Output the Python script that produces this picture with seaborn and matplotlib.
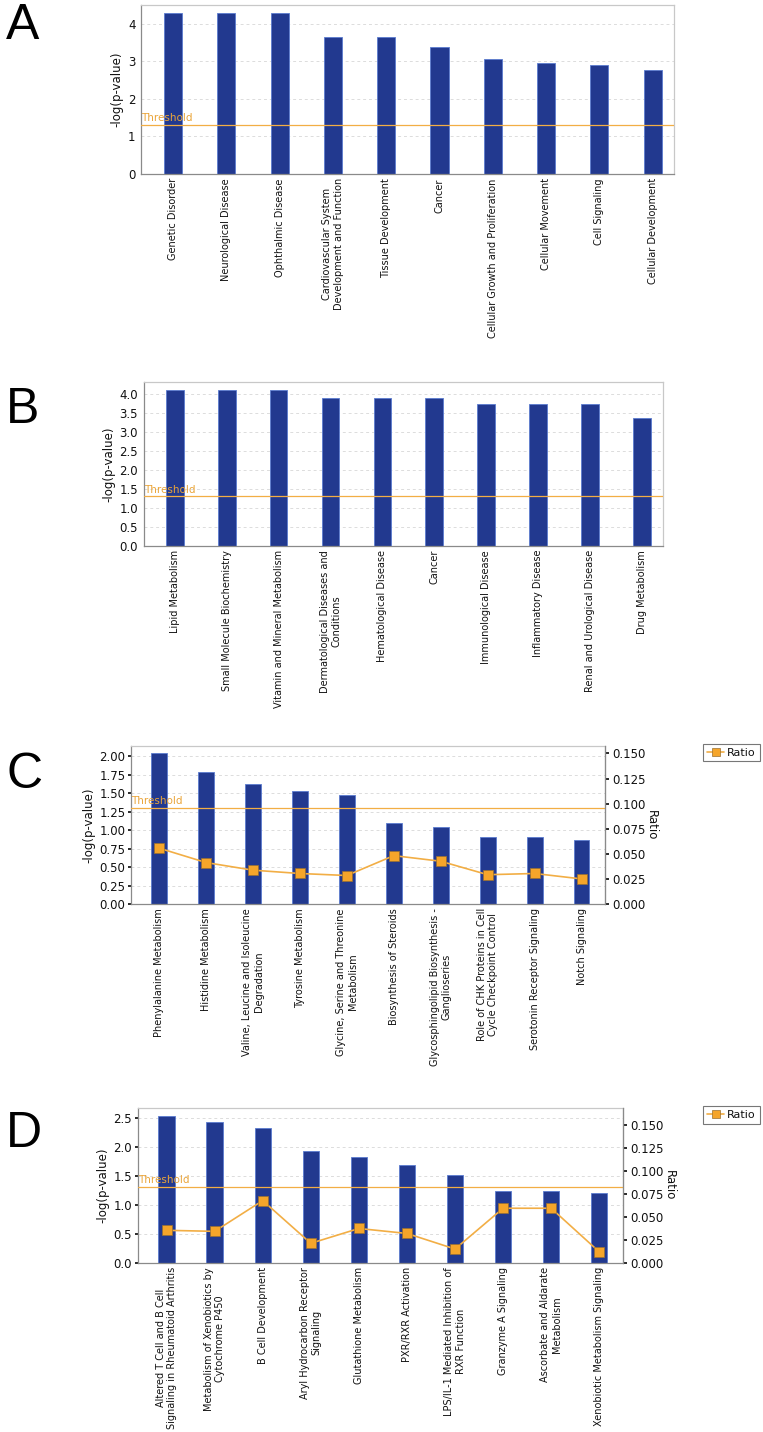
import numpy as np
import pandas as pd
import matplotlib
matplotlib.use("Agg")
import matplotlib.pyplot as plt
import seaborn as sns

# ---- data ----
# panel A
a_labels = ["Genetic Disorder", "Neurological Disease", "Ophthalmic Disease",
            "Cardiovascular System\nDevelopment and Function", "Tissue Development",
            "Cancer", "Cellular Growth and Proliferation", "Cellular Movement",
            "Cell Signaling", "Cellular Development"]
a_logp = [4.30, 4.30, 4.30, 3.66, 3.66, 3.38, 3.06, 2.96, 2.90, 2.78]

# panel B
b_labels = ["Lipid Metabolism", "Small Molecule Biochemistry",
            "Vitamin and Mineral Metabolism", "Dermatological Diseases and\nConditions",
            "Hematological Disease", "Cancer", "Immunological Disease",
            "Inflammatory Disease", "Renal and Urological Disease", "Drug Metabolism"]
b_logp = [4.10, 4.10, 4.10, 3.90, 3.90, 3.89, 3.73, 3.73, 3.73, 3.36]

# panel C
c_labels = ["Phenylalanine Metabolism", "Histidine Metabolism",
            "Valine, Leucine and Isoleucine\nDegradation", "Tyrosine Metabolism",
            "Glycine, Serine and Threonine\nMetabolism", "Biosynthesis of Steroids",
            "Glycosphingolipid Biosynthesis -\nGanglioseries",
            "Role of CHK Proteins in Cell\nCycle Checkpoint Control",
            "Serotonin Receptor Signaling", "Notch Signaling"]
c_logp = [2.04, 1.78, 1.62, 1.53, 1.48, 1.09, 1.04, 0.905, 0.905, 0.86]
c_ratio = [0.0556, 0.0413, 0.0337, 0.0304, 0.0284, 0.0482, 0.0426, 0.0292, 0.0304, 0.0250]

# panel D
d_labels = ["Altered T Cell and B Cell\nSignaling in Rheumatoid Arthritis",
            "Metabolism of Xenobiotics by\nCytochrome P450", "B Cell Development",
            "Aryl Hydrocarbon Receptor\nSignaling", "Glutathione Metabolism",
            "PXR/RXR Activation", "LPS/IL-1 Mediated Inhibition of\nRXR Function",
            "Granzyme A Signaling", "Ascorbate and Aldarate\nMetabolism",
            "Xenobiotic Metabolism Signaling"]
d_logp = [2.53, 2.43, 2.33, 1.93, 1.82, 1.68, 1.51, 1.23, 1.23, 1.21]
d_ratio = [0.0352, 0.0341, 0.0675, 0.0211, 0.0372, 0.0318, 0.0149, 0.0592, 0.0592, 0.0118]

threshold = 1.3

# ---- style ----
bar_color = "#22398f"
orange = "#f2ae45"
sns.set_theme(style="white")
plt.rcParams['font.family'] = ['DejaVu Sans']
plt.rcParams['text.color'] = '#111111'
plt.rcParams['axes.labelcolor'] = '#111111'

fig = plt.figure(figsize=(7.63, 14.32), dpi=100)


def panel(rect, labels, logp, yticks, ytop, fmt, letter, letter_y,
          ratio=None, rticks=None, rtop=None, xr=9.4):
    ax = fig.add_axes(rect)
    df = pd.DataFrame({"cat": labels, "val": logp})
    sns.barplot(data=df, x="cat", y="val", ax=ax, color=bar_color, width=0.34,
                saturation=1, edgecolor="#5b7bcf", linewidth=0.6)
    ax.set_xlim(-0.6, xr)
    ax.set_ylim(0, ytop)
    ax.set_yticks(yticks)
    ax.set_yticklabels([fmt.format(t) for t in yticks], fontsize=8.5)
    ax.yaxis.grid(True, linestyle=(0, (3, 3)), color="#dcdcdc", linewidth=0.7)
    ax.set_axisbelow(True)
    ax.tick_params(axis="y", length=2, pad=2, colors="#111111")
    ax.tick_params(axis="x", length=0, pad=3, colors="#111111")
    ax.set_xticks(range(len(labels)))
    ax.set_xticklabels(labels, rotation=90, fontsize=7, ha="center",
                       va="top", multialignment="center")
    ax.set_xlabel("")
    ax.set_ylabel("-log(p-value)", fontsize=8.5, labelpad=3)
    for s in ["top", "right"]:
        ax.spines[s].set_color("#c8c8c8")
    for s in ["left", "bottom"]:
        ax.spines[s].set_color("#8a8a8a")
    for s in ax.spines.values():
        s.set_linewidth(0.9)
    ax.axhline(threshold, color=orange, linewidth=0.9, zorder=3)
    ax.text(-0.6, threshold + ytop * 0.012, "Threshold", color="#eaa53a",
            fontsize=7.5, va="bottom", ha="left", zorder=4)
    fig.text(0.008, letter_y, letter, fontsize=36, ha="left", va="center",
             color="black", family=["Liberation Sans", "DejaVu Sans"])
    if ratio is not None:
        ax2 = ax.twinx()
        sns.lineplot(x=np.arange(len(ratio)), y=ratio, ax=ax2, color=orange,
                     marker="s", markersize=7, markerfacecolor="#f5a52a",
                     markeredgecolor="#9a7030", markeredgewidth=0.5,
                     linewidth=1.2, label="Ratio", legend=False)
        ax2.set_ylim(0, rtop)
        ax2.set_yticks(rticks)
        ax2.set_yticklabels(["{:.3f}".format(t) for t in rticks], fontsize=8.5)
        ax2.tick_params(axis="y", length=3, pad=2, colors="#111111")
        ax2.set_ylabel("Ratio", rotation=270, fontsize=8.5, labelpad=9)
        for s in ax2.spines.values():
            s.set_visible(False)
        ax2.spines["right"].set_visible(True)
        ax2.spines["right"].set_color("#8a8a8a")
        ax2.spines["right"].set_linewidth(0.9)
        h, l = ax2.get_legend_handles_labels()
        leg = fig.legend(h, l, loc="upper left",
                         bbox_to_anchor=(0.921, rect[1] + rect[3] + 0.0015),
                         fontsize=8, frameon=True, fancybox=False,
                         handlelength=1.6, handletextpad=0.25, borderpad=0.35,
                         borderaxespad=0, markerscale=0.75)
        leg.get_frame().set_edgecolor("#555555")
        leg.get_frame().set_linewidth(0.8)
    return ax


panel([0.1848, 0.8785, 0.6986, 0.1182], a_labels, a_logp, [0, 1, 2, 3, 4], 4.51,
      "{:.0f}", "A", 0.982)
panel([0.1883, 0.6189, 0.6800, 0.1143], b_labels, b_logp,
      [0, 0.5, 1.0, 1.5, 2.0, 2.5, 3.0, 3.5, 4.0], 4.32, "{:.1f}", "B", 0.714)
panel([0.1717, 0.3687, 0.6212, 0.1105], c_labels, c_logp,
      [0, 0.25, 0.5, 0.75, 1.0, 1.25, 1.5, 1.75, 2.0], 2.14, "{:.2f}", "C", 0.459,
      ratio=c_ratio, rticks=[0, 0.025, 0.05, 0.075, 0.1, 0.125, 0.15], rtop=0.1576,
      xr=9.5)
panel([0.1805, 0.1182, 0.6364, 0.1080], d_labels, d_logp,
      [0, 0.5, 1.0, 1.5, 2.0, 2.5], 2.667, "{:.1f}", "D", 0.208,
      ratio=d_ratio, rticks=[0, 0.025, 0.05, 0.075, 0.1, 0.125, 0.15], rtop=0.168,
      xr=9.5)

fig.savefig("out.png", dpi=100)
